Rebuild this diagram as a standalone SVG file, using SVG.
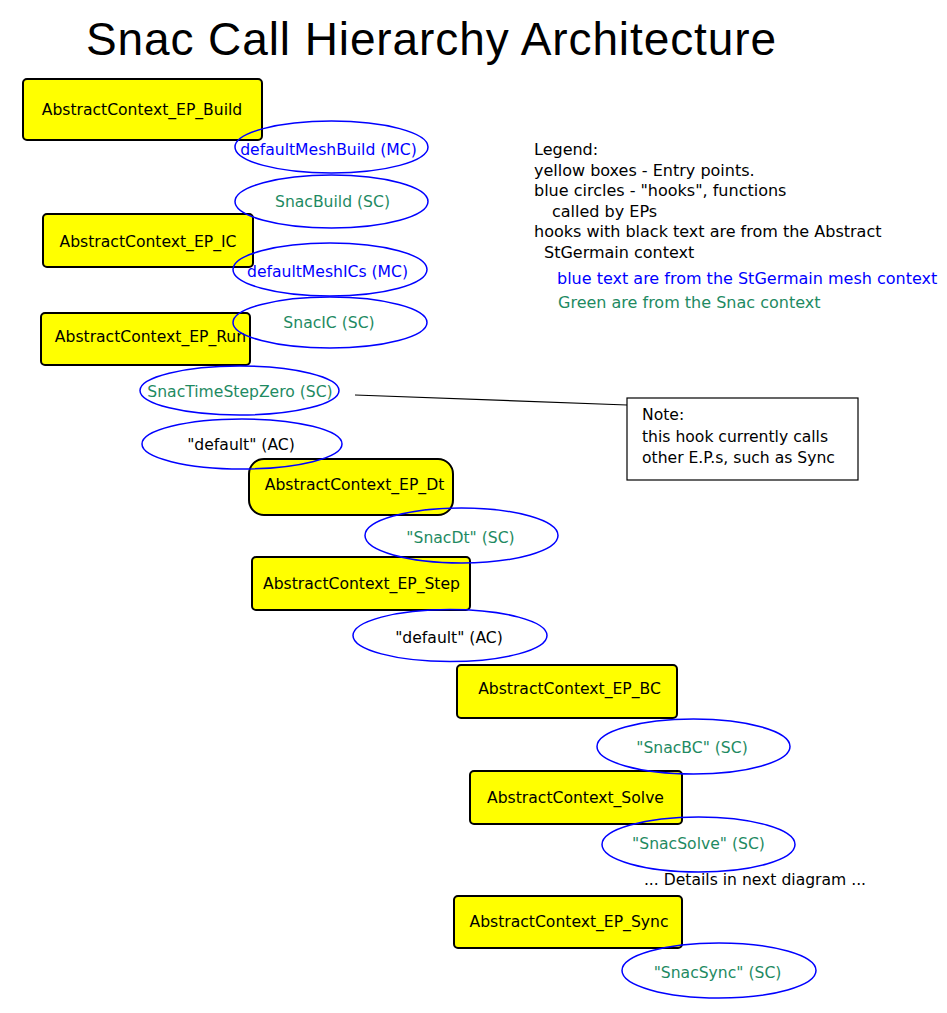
<svg xmlns="http://www.w3.org/2000/svg" width="947" height="1013" viewBox="0 0 947 1013">
<style>
  text { font-family: "DejaVu Sans", "Liberation Sans", sans-serif; font-size: 15.6px; }
  .title { font-family: "Liberation Sans", "DejaVu Sans", sans-serif; font-size: 46px; fill: #000; }
  .box { fill: #ffff00; stroke: #000; stroke-width: 2; }
  .hook { fill: none; stroke: #0000ff; stroke-width: 1.5; }
  .c { text-anchor: middle; }
  .k { fill: #000; }
  .b { fill: #0000ff; }
  .g { fill: #1e8a62; }
  .note { fill: #fff; stroke: #000; stroke-width: 1.2; }
  .conn { stroke: #000; stroke-width: 1.2; fill: none; }
  #legend text { font-size: 16px; }
</style>
<rect width="947" height="1013" fill="#ffffff"/>
<text class="title" x="86" y="55" textLength="690" lengthAdjust="spacing">Snac Call Hierarchy Architecture</text>

<g id="connectors">
  <line class="conn" x1="355" y1="395" x2="627" y2="405"/>
</g>

<g id="ep-build"><rect class="box" x="23" y="79" width="239" height="61" rx="4"/><text class="c k" x="142" y="115">AbstractContext_EP_Build</text></g>
<g id="ep-ic"><rect class="box" x="43" y="214" width="210" height="53" rx="4"/><text class="c k" x="148" y="247">AbstractContext_EP_IC</text></g>
<g id="ep-run"><rect class="box" x="41" y="313" width="209" height="52" rx="4"/><text class="c k" x="150.5" y="342">AbstractContext_EP_Run</text></g>
<g id="ep-dt"><rect class="box" x="249" y="459" width="204" height="56" rx="15"/><text class="c k" x="354.5" y="490">AbstractContext_EP_Dt</text></g>
<g id="ep-step"><rect class="box" x="252" y="557" width="218" height="53" rx="4"/><text class="c k" x="361.5" y="589">AbstractContext_EP_Step</text></g>
<g id="ep-bc"><rect class="box" x="457" y="665" width="220" height="53" rx="4"/><text class="c k" x="569.5" y="694">AbstractContext_EP_BC</text></g>
<g id="solve"><rect class="box" x="470" y="771" width="212" height="53" rx="4"/><text class="c k" x="575.5" y="803">AbstractContext_Solve</text></g>
<g id="ep-sync"><rect class="box" x="454" y="896" width="228" height="52" rx="4"/><text class="c k" x="569" y="927">AbstractContext_EP_Sync</text></g>

<g id="hook-defaultMeshBuild"><ellipse class="hook" cx="331.5" cy="147" rx="96.5" ry="26"/><text class="c b" x="328.5" y="155">defaultMeshBuild (MC)</text></g>
<g id="hook-SnacBuild"><ellipse class="hook" cx="331.5" cy="201.5" rx="96.5" ry="26.5"/><text class="c g" x="332.5" y="207">SnacBuild (SC)</text></g>
<g id="hook-defaultMeshICs"><ellipse class="hook" cx="330" cy="269.5" rx="97" ry="26.5"/><text class="c b" x="327.5" y="277">defaultMeshICs (MC)</text></g>
<g id="hook-SnacIC"><ellipse class="hook" cx="330" cy="322.5" rx="97" ry="25.5"/><text class="c g" x="329" y="328">SnacIC (SC)</text></g>
<g id="hook-SnacTimeStepZero"><ellipse class="hook" cx="239.5" cy="390.5" rx="99.5" ry="24.5"/><text class="c g" x="240" y="397">SnacTimeStepZero (SC)</text></g>
<g id="hook-default-1"><ellipse class="hook" cx="242" cy="444" rx="100" ry="25"/><text class="c k" x="241" y="450">"default" (AC)</text></g>
<g id="hook-SnacDt"><ellipse class="hook" cx="461.5" cy="535.5" rx="96.5" ry="27.5"/><text class="c g" x="460.5" y="543">"SnacDt" (SC)</text></g>
<g id="hook-default-2"><ellipse class="hook" cx="450" cy="635.5" rx="97" ry="26"/><text class="c k" x="449" y="643">"default" (AC)</text></g>
<g id="hook-SnacBC"><ellipse class="hook" cx="693.5" cy="746.5" rx="96.5" ry="27.5"/><text class="c g" x="692" y="753">"SnacBC" (SC)</text></g>
<g id="hook-SnacSolve"><ellipse class="hook" cx="698.5" cy="844.5" rx="96.5" ry="27.5"/><text class="c g" x="698.5" y="849">"SnacSolve" (SC)</text></g>
<g id="hook-SnacSync"><ellipse class="hook" cx="719" cy="970.5" rx="97" ry="27.5"/><text class="c g" x="717.5" y="978">"SnacSync" (SC)</text></g>

<g id="details"><text class="c k" x="755" y="885">... Details in next diagram ...</text></g>

<g id="note">
  <rect class="note" x="627" y="398" width="231" height="82"/>
  <text class="k" x="642" y="420">Note:</text>
  <text class="k" x="642" y="442">this hook currently calls</text>
  <text class="k" x="642" y="463">other E.P.s, such as Sync</text>
</g>

<g id="legend">
  <text class="k" x="534" y="155">Legend:</text>
  <text class="k" x="534" y="176">yellow boxes - Entry points.</text>
  <text class="k" x="534" y="196">blue circles - "hooks", functions</text>
  <text class="k" x="552" y="217">called by EPs</text>
  <text class="k" x="534" y="237">hooks with black text are from the Abstract</text>
  <text class="k" x="544" y="258">StGermain context</text>
  <text class="b" x="557" y="284">blue text are from the StGermain mesh context</text>
  <text class="g" x="558" y="308">Green are from the Snac context</text>
</g>
</svg>
